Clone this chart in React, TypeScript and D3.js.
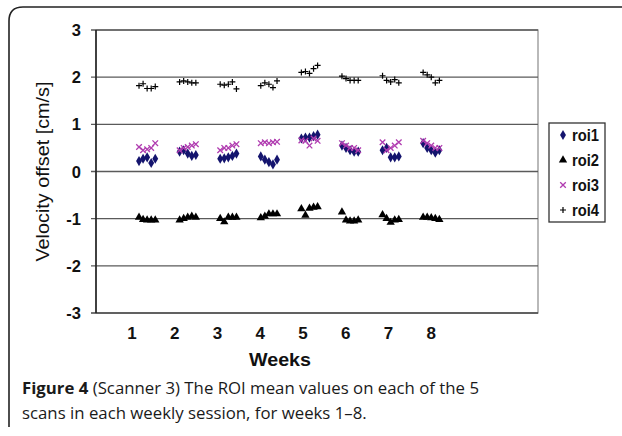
import React from "react";
import * as d3 from "d3";

const weeks = [1, 2, 3, 4, 5, 6, 7, 8];
const yTicks = [3, 2, 1, 0, -1, -2, -3];
const seriesNames = ["roi1", "roi2", "roi3", "roi4"];

const roi1 = [
  [0.22, 0.27, 0.3, 0.18, 0.27],
  [0.42, 0.45, 0.38, 0.33, 0.35],
  [0.27, 0.28, 0.3, 0.33, 0.38],
  [0.32, 0.25, 0.2, 0.15, 0.25],
  [0.7, 0.72, 0.72, 0.75, 0.78],
  [0.55, 0.5, 0.45, 0.42, 0.42],
  [0.45, 0.5, 0.3, 0.3, 0.32],
  [0.6, 0.5, 0.45, 0.4, 0.45],
];
const roi2 = [
  [-0.97, -1.02, -1.03, -1.03, -1.03],
  [-1.03, -1.0, -0.97, -0.95, -0.97],
  [-1.0, -1.07, -0.97, -0.97, -0.97],
  [-0.98, -0.95, -0.9, -0.9, -0.9],
  [-0.79, -0.93, -0.78, -0.76, -0.75],
  [-0.86, -1.03, -1.05, -1.05, -1.03],
  [-0.92, -1.0, -1.08, -1.03, -1.02],
  [-0.97, -0.97, -0.98, -1.0, -1.02],
];
const roi3 = [
  [0.52, 0.45, 0.47, 0.5, 0.6],
  [0.45, 0.5, 0.52, 0.55, 0.58],
  [0.45, 0.5, 0.5, 0.55, 0.58],
  [0.6, 0.62, 0.6, 0.62, 0.63],
  [0.66, 0.65, 0.55, 0.7, 0.65],
  [0.6, 0.55, 0.5, 0.5, 0.45],
  [0.62, 0.45, 0.5, 0.55, 0.62],
  [0.65, 0.6, 0.55, 0.5, 0.5],
];
const roi4 = [
  [1.82, 1.86, 1.76, 1.76, 1.8],
  [1.9, 1.92, 1.9, 1.88, 1.88],
  [1.85, 1.83, 1.85, 1.9, 1.75],
  [1.82, 1.88, 1.85, 1.78, 1.92],
  [2.1, 2.12, 2.08, 2.18, 2.25],
  [2.02, 1.97, 1.93, 1.93, 1.93],
  [2.03, 1.93, 1.9, 1.95, 1.88],
  [2.1, 2.05, 2.0, 1.88, 1.93],
];

const allSeries = [roi1, roi2, roi3, roi4];
const colors = ["#14146e", "#000000", "#b03cb0", "#000000"];

const W = 622;
const H = 436;
const plot = { left: 96, right: 538, top: 30, bottom: 313 };

// slot index: (week-1)*10 + scan
const xScan = d3.scaleLinear().domain([-10.6, 98.3]).range([plot.left, plot.right]);
const xWeekLabel = d3.scaleLinear().domain([0.16, 10.5]).range([plot.left, plot.right]);
const y = d3.scaleLinear().domain([-3, 3]).range([plot.bottom, plot.top]);

const sym = [d3.symbolDiamond, d3.symbolTriangle, d3.symbolX, d3.symbolCross];

function Marker({ k, x, yy }: { k: number; x: number; yy: number }) {
  if (k === 3) {
    return (
      <path
        d={`M${x - 3},${yy}H${x + 3}M${x},${yy - 3}V${yy + 3}`}
        stroke="#000"
        strokeWidth={1.2}
        fill="none"
      />
    );
  }
  if (k === 2) {
    return (
      <path
        d={`M${x - 2.8},${yy - 2.8}L${x + 2.8},${yy + 2.8}M${x + 2.8},${yy - 2.8}L${x - 2.8},${yy + 2.8}`}
        stroke={colors[2]}
        strokeWidth={1.3}
        fill="none"
      />
    );
  }
  const size = k === 0 ? 30 : 30;
  const p = d3.symbol().type(sym[k]).size(size)();
  return <path d={p || ""} transform={`translate(${x},${yy})`} fill={colors[k]} />;
}

export default function App() {
  const font = "'Liberation Sans', Arial, sans-serif";
  return (
    <svg
      width={W}
      height={H}
      style={{ position: "absolute", left: 0, top: 0, background: "#fff" }}
    >
      {/* outer frame */}
      <path
        d={`M9,427V21Q9,7 23,7H${W + 5}`}
        fill="none"
        stroke="#222"
        strokeWidth={1.6}
      />
      {/* plot frame */}
      <rect
        x={plot.left}
        y={plot.top}
        width={plot.right - plot.left}
        height={plot.bottom - plot.top}
        fill="none"
        stroke="#8a8a8a"
        strokeWidth={1.2}
      />
      {/* gridlines */}
      {yTicks.map((t) => (
        <line
          key={"g" + t}
          x1={plot.left - 5}
          x2={plot.right}
          y1={y(t)}
          y2={y(t)}
          stroke={t === -3 ? "#444" : "#5a5a5a"}
          strokeWidth={1.3}
        />
      ))}
      <line x1={plot.left} x2={plot.left} y1={plot.top} y2={plot.bottom} stroke="#222" strokeWidth={1.6} />
      {/* y tick labels */}
      {yTicks.map((t) => (
        <text
          key={"t" + t}
          x={81}
          y={y(t) + 6}
          textAnchor="end"
          fontFamily={font}
          fontWeight="bold"
          fontSize={16.5}
          fill="#111"
        >
          {t < 0 ? "-" + Math.abs(t) : t}
        </text>
      ))}
      {/* x labels */}
      {weeks.map((w) => (
        <text
          key={"w" + w}
          x={xWeekLabel(w)}
          y={339}
          textAnchor="middle"
          fontFamily={font}
          fontWeight="bold"
          fontSize={17}
          fill="#111"
        >
          {w}
        </text>
      ))}
      <text
        x={280}
        y={366}
        textAnchor="middle"
        fontFamily={font}
        fontWeight="bold"
        fontSize={18}
        fill="#111"
        textLength={62}
        lengthAdjust="spacingAndGlyphs"
      >
        Weeks
      </text>
      <text
        transform={`translate(49,${y(0)}) rotate(-90)`}
        textAnchor="middle"
        fontFamily={font}
        fontSize={18}
        fill="#111"
        textLength={180}
        lengthAdjust="spacingAndGlyphs"
      >
        Velocity offset [cm/s]
      </text>
      {/* points */}
      {allSeries.map((ser, k) =>
        ser.map((vals, wi) =>
          vals.map((v, s) => (
            <Marker key={`${k}-${wi}-${s}`} k={k} x={xScan(wi * 10 + s)} yy={y(v)} />
          ))
        )
      )}
      {/* legend */}
      <rect x={549} y={123} width={56} height={99} fill="#fff" stroke="#333" strokeWidth={1.3} />
      {seriesNames.map((n, k) => {
        const ly = 135 + k * 25;
        return (
          <g key={n}>
            <Marker k={k} x={563} yy={ly} />
            <text
              x={572}
              y={ly + 6}
              fontFamily={font}
              fontWeight="bold"
              fontSize={17}
              fill="#111"
              textLength={27}
              lengthAdjust="spacingAndGlyphs"
            >
              {n}
            </text>
          </g>
        );
      })}
      {/* caption */}
      <text x={22} y={394} fontFamily="'Open Sans', sans-serif" fontSize={16.8} fill="#1a1a1a">
        <tspan fontWeight="bold">Figure 4</tspan> (Scanner 3) The ROI mean values on each of the 5
      </text>
      <text x={22} y={419} fontFamily="'Open Sans', sans-serif" fontSize={16.8} fill="#1a1a1a">
        scans in each weekly session, for weeks 1–8.
      </text>
    </svg>
  );
}
